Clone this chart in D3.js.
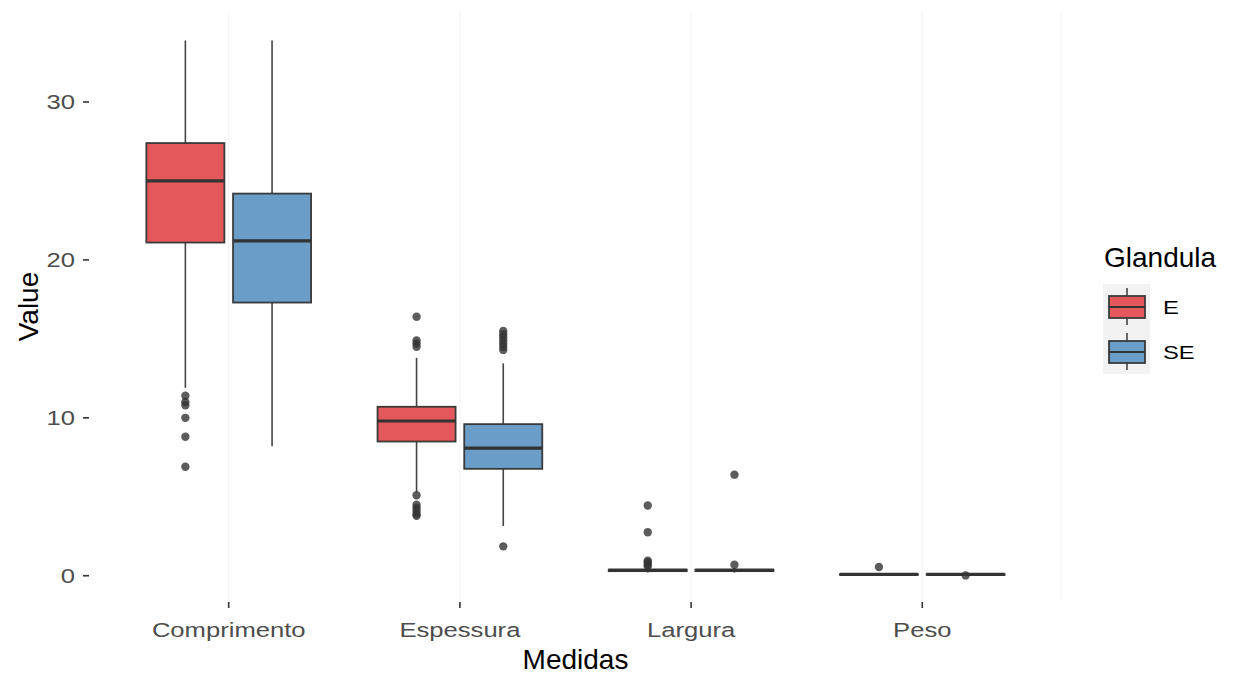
<!DOCTYPE html>
<html>
<head>
<meta charset="utf-8">
<script src="https://cdn.jsdelivr.net/npm/d3@7"></script>
<style>
  body { margin: 0; background: #fff; }
  svg { display: block; font-family: "Liberation Sans", Arial, sans-serif; }
</style>
</head>
<body>
<svg id="chart" width="1233" height="674"></svg>
<script>
// Measurements and glands
const categories = ["Comprimento", "Espessura", "Largura", "Peso"];
const groups = ["E", "SE"];
const yTicks = [0, 10, 20, 30];

// Box statistics per gland, one entry per measurement
const whiskerLowE  = [11.9, 5.3, 0.2, 0.03];
const q1E          = [21.1, 8.5, 0.29, 0.06];
const medianE      = [25.0, 9.8, 0.34, 0.08];
const q3E          = [27.4, 10.7, 0.39, 0.10];
const whiskerHighE = [33.9, 13.8, 0.5, 0.15];
const outliersE    = [
  [11.4, 11.0, 10.8, 10.0, 8.8, 6.9],
  [16.4, 14.9, 14.7, 14.5, 5.1, 4.5, 4.3, 4.1, 3.9, 3.8],
  [4.45, 2.75, 0.95, 0.85, 0.7, 0.6],
  [0.55]
];

const whiskerLowSE  = [8.2, 3.15, 0.2, 0.04];
const q1SE          = [17.3, 6.77, 0.29, 0.06];
const medianSE      = [21.2, 8.08, 0.34, 0.08];
const q3SE          = [24.2, 9.6, 0.39, 0.10];
const whiskerHighSE = [33.9, 13.45, 0.5, 0.15];
const outliersSE    = [
  [],
  [15.5, 15.3, 15.1, 14.9, 14.7, 14.5, 14.3, 1.86],
  [6.4, 0.7],
  [0.02]
];

const fills = { E: "#E4575B", SE: "#6A9DC8" };

const boxes = [];
categories.forEach((c, i) => {
  boxes.push({ cat: c, grp: "E", lo: whiskerLowE[i], q1: q1E[i], med: medianE[i], q3: q3E[i], hi: whiskerHighE[i], out: outliersE[i] });
  boxes.push({ cat: c, grp: "SE", lo: whiskerLowSE[i], q1: q1SE[i], med: medianSE[i], q3: q3SE[i], hi: whiskerHighSE[i], out: outliersSE[i] });
});

const panel = { left: 90, right: 1061, top: 12, bottom: 601 };
const svg = d3.select("#chart");

// Small-text glyphs are drawn slightly wide
const labelStretch = 1.25;
const labelSize = 20.5;
const titleSize = 28;

const x = d3.scaleBand().domain(categories).range([panel.left, panel.right]).paddingInner(0).paddingOuter(0.1);
const dodge = x.bandwidth() * 0.75;
const xg = d3.scaleBand().domain(groups).range([-dodge / 2, dodge / 2]).paddingInner(0.1).paddingOuter(0.05);
const y = d3.scaleLinear().domain([-1.6, 35.7]).range([panel.bottom, panel.top]);
const cx = c => x(c) + x.bandwidth() / 2;

// Panel grid (very faint)
const grid = svg.append("g");
grid.selectAll("line.v").data(categories).join("line")
  .attr("x1", cx).attr("x2", cx)
  .attr("y1", panel.top).attr("y2", panel.bottom)
  .attr("stroke", "#f3f3f3").attr("stroke-width", 1);
grid.append("line")
  .attr("x1", panel.right).attr("x2", panel.right)
  .attr("y1", panel.top).attr("y2", panel.bottom)
  .attr("stroke", "#f3f3f3").attr("stroke-width", 1);

// Boxplots
const g = svg.append("g");
const bx = g.selectAll("g.box").data(boxes).join("g")
  .attr("transform", d => `translate(${cx(d.cat) + xg(d.grp) + xg.bandwidth() / 2},0)`);
const bw = xg.bandwidth();

bx.append("line").attr("x1", 0).attr("x2", 0)
  .attr("y1", d => y(d.hi)).attr("y2", d => y(d.q3))
  .attr("stroke", "#444").attr("stroke-width", 1.6);
bx.append("line").attr("x1", 0).attr("x2", 0)
  .attr("y1", d => y(d.q1)).attr("y2", d => y(d.lo))
  .attr("stroke", "#444").attr("stroke-width", 1.6);
bx.append("rect")
  .attr("x", -bw / 2).attr("width", bw)
  .attr("y", d => y(d.q3)).attr("height", d => Math.max(0.5, y(d.q1) - y(d.q3)))
  .attr("fill", d => fills[d.grp]).attr("stroke", "#3a3a3a").attr("stroke-width", 1.8);
bx.append("line")
  .attr("x1", -bw / 2).attr("x2", bw / 2)
  .attr("y1", d => y(d.med)).attr("y2", d => y(d.med))
  .attr("stroke", "#333").attr("stroke-width", 3.2);
bx.selectAll("circle").data(d => d.out).join("circle")
  .attr("cx", 0).attr("cy", v => y(v)).attr("r", 4.2)
  .attr("fill", "#333").attr("fill-opacity", 0.8);

// Y axis
const yAxis = svg.append("g");
yAxis.selectAll("line").data(yTicks).join("line")
  .attr("x1", panel.left - 7).attr("x2", panel.left - 1)
  .attr("y1", d => y(d)).attr("y2", d => y(d))
  .attr("stroke", "#333").attr("stroke-width", 1.6);
yAxis.selectAll("text").data(yTicks).join("text")
  .attr("transform", d => `translate(${panel.left - 15},${y(d)}) scale(${labelStretch},1)`)
  .attr("dy", "0.36em")
  .attr("text-anchor", "end").attr("font-size", labelSize).attr("fill", "#4d4d4d")
  .text(d => d);

// X axis
const xAxis = svg.append("g");
xAxis.selectAll("line").data(categories).join("line")
  .attr("x1", cx).attr("x2", cx)
  .attr("y1", panel.bottom + 1).attr("y2", panel.bottom + 7)
  .attr("stroke", "#333").attr("stroke-width", 1.6);
xAxis.selectAll("text").data(categories).join("text")
  .attr("transform", d => `translate(${cx(d)},637) scale(${labelStretch},1)`)
  .attr("text-anchor", "middle").attr("font-size", labelSize).attr("fill", "#4d4d4d")
  .text(d => d);

// Axis titles
svg.append("text").attr("x", (panel.left + panel.right) / 2).attr("y", 669)
  .attr("text-anchor", "middle").attr("font-size", titleSize).attr("fill", "#000").text("Medidas");
svg.append("text").attr("transform", `translate(38,${(panel.top + panel.bottom) / 2}) rotate(-90)`)
  .attr("text-anchor", "middle").attr("font-size", titleSize).attr("fill", "#000").text("Value");

// Legend
const legend = svg.append("g").attr("transform", "translate(1103,0)");
legend.append("text").attr("x", 1).attr("y", 267).attr("font-size", titleSize).attr("fill", "#000").text("Glandula");
const keys = legend.selectAll("g.key").data(groups).join("g")
  .attr("transform", (d, i) => `translate(0,${284 + i * 45})`);
keys.append("rect").attr("width", 47).attr("height", 45).attr("fill", "#f2f2f2");
keys.append("line").attr("x1", 24).attr("x2", 24).attr("y1", 4).attr("y2", 41)
  .attr("stroke", "#444").attr("stroke-width", 1.6);
keys.append("rect").attr("x", 6).attr("y", 12).attr("width", 36).attr("height", 22)
  .attr("fill", d => fills[d]).attr("stroke", "#3a3a3a").attr("stroke-width", 1.8);
keys.append("line").attr("x1", 6).attr("x2", 42).attr("y1", 23).attr("y2", 23)
  .attr("stroke", "#333").attr("stroke-width", 1.8);
keys.append("text").attr("transform", "translate(60,23) scale(1.25,1)").attr("dy", "0.36em")
  .attr("font-size", 19).attr("fill", "#000").text(d => d);
</script>
</body>
</html>
